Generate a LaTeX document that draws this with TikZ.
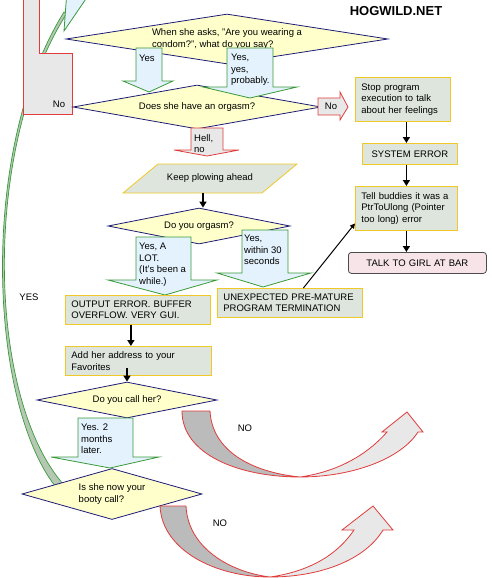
\documentclass[tikz,border=0pt]{standalone}
\usepackage{fontspec}
\setmainfont{Liberation Sans}
\usetikzlibrary{shapes.geometric, arrows.meta}

\definecolor{navy}{HTML}{1C1C78}
\definecolor{paleyellow}{HTML}{FFFFCC}
\definecolor{leaf}{HTML}{3A9A3A}
\definecolor{iceblue}{HTML}{E3F2FC}
\definecolor{brick}{HTML}{E03C3C}
\definecolor{ash}{HTML}{E8E8E8}
\definecolor{dkash}{HTML}{BBBBBB}
\definecolor{gold}{HTML}{F0C828}
\definecolor{sage}{HTML}{DDE5DD}
\definecolor{blush}{HTML}{F6E4E8}
\definecolor{moss}{HTML}{B4C8B4}

\tikzset{
  decision/.style={diamond, draw=navy, fill=paleyellow, line width=0.8pt, inner sep=0pt, align=left},
  procbox/.style={rectangle, draw=gold, fill=sage, line width=0.8pt, anchor=north west,
    inner xsep=6pt, inner ysep=3pt, align=left},
  talkbox/.style={rectangle, rounded corners=3pt, draw=black!70, fill=blush, line width=0.8pt,
    anchor=north west, inner xsep=6pt, inner ysep=3pt, align=center},
  yesarrow/.style={draw=leaf, fill=iceblue, line width=0.8pt},
  noarrow/.style={draw=brick, fill=ash, line width=0.8pt},
  nofold/.style={draw=brick, fill=dkash, line width=0.8pt},
  yesband/.style={draw=leaf, fill=moss, line width=0.7pt},
  plowbox/.style={draw=gold, fill=sage, line width=0.8pt},
  lbl/.style={inner sep=0pt, align=left, anchor=north west},
  flow/.style={-{Triangle[length=6pt,width=7pt]}, line width=1.6pt},
  thinflow/.style={-{Triangle[length=5pt,width=5pt]}, line width=1pt},
}

\begin{document}
\begin{tikzpicture}[x=1pt, y=-1pt, font=\fontsize{9.5}{11.5}\selectfont]
\useasboundingbox (0,0) rectangle (491,578);
\clip (0,0) rectangle (491,578);
% the long YES arrow round the left side
\draw[yesband] (55,486) .. controls (-11,400) and (-22,150) .. (64,12)
  -- (67,13) .. controls (-20,150) and (-12,400) .. (64,485) -- cycle;
\draw[yesarrow] (64,31) -- (67,-10) -- (92,-10) -- cycle;
% No branch running off the top
\draw[noarrow] (23,-5) -- (23,114) -- (72,114) -- (72,53) -- (39,53) -- (39,-5) -- cycle;
\node (nolbl) at (59,104) {No};
\node (yeslong) at (29,297) {YES};
\node[font=\fontsize{13}{15}\selectfont\bfseries] (brand) at (396,11) {HOGWILD.NET};

% decisions
\node[decision, aspect=6.5, minimum width=322pt, minimum height=50pt] (asks) at (227,39)
  {When she asks, "Are you wearing a\\condom?", what do you say?};
\node[decision, aspect=6, minimum width=248pt, minimum height=44pt] (herorg) at (197,107)
  {Does she have an orgasm?};
\node[decision, aspect=6, minimum width=182pt, minimum height=36pt] (yourorg) at (199,226)
  {Do you orgasm?};
\node[decision, aspect=6, minimum width=180pt, minimum height=36pt] (callher) at (127,400)
  {Do you call her?};
\node[decision, aspect=4, minimum width=180pt, minimum height=51pt] (booty) at (112,494)
  {Is she now your\\booty call?};

% block arrows between the decisions
\draw[yesarrow] (136,48) -- (162,48) -- (162,81) -- (173,81) -- (149,92) -- (123,81) -- (136,81) -- cycle;
\node[lbl] (yes1) at (139,55) {Yes};
\draw[yesarrow] (227,48) -- (273,48) -- (273,87) -- (297,87) -- (250,98) -- (203,87) -- (227,87) -- cycle;
\node[lbl] (yes2) at (231,54) {Yes,\\yes,\\probably.};
\draw[noarrow] (318,98) -- (340,98) -- (340,92) -- (348,107) -- (340,120) -- (340,115) -- (318,115) -- cycle;
\node (no1) at (331,106) {No};
\draw[noarrow] (191,128) -- (223,128) -- (223,150) -- (239,150) -- (207,156) -- (174,150) -- (191,150) -- cycle;
\node[lbl] (hell) at (194,134) {Hell,\\no};
\draw[yesarrow] (136,237) -- (191,237) -- (191,280) -- (217,280) -- (165,295) -- (108,280) -- (136,280) -- cycle;
\node[lbl] (alot) at (139,243) {Yes, A\\LOT.\\(It's been a\\while.)};
\draw[yesarrow] (242,230) -- (288,230) -- (288,273) -- (311,273) -- (263,287) -- (217,273) -- (242,273) -- cycle;
\node[lbl] (within) at (244,235) {Yes,\\within 30\\seconds};
\draw[yesarrow] (78,418) -- (133,418) -- (133,457) -- (159,457) -- (110,468) -- (51,457) -- (78,457) -- cycle;
\node[lbl] (later) at (81,424) {Yes. 2\\months\\later.};

% curved NO arrows
\draw[nofold] (182,411) .. controls (182,455) and (240,477) .. (300,477)
  .. controls (250,472) and (212,450) .. (210,411) -- cycle;
\draw[noarrow] (300,477) .. controls (350,477) and (400,460) .. (418,432) -- (423,432) -- (407,412)
  -- (382,432) -- (387,432) .. controls (365,457) and (335,472) .. (300,477) -- cycle;
\node (no2) at (245,428) {NO};
\draw[nofold] (160,506) .. controls (162,550) and (215,577) .. (270,577)
  .. controls (230,572) and (188,548) .. (186,506) -- cycle;
\draw[noarrow] (270,577) .. controls (320,577) and (365,560) .. (383,530) -- (393,530) -- (373,506)
  -- (342,530) -- (354,530) .. controls (335,558) and (305,572) .. (270,577) -- cycle;
\node (no3) at (220,523) {NO};

% process steps
\draw[plowbox] (158,164) -- (297,164) -- (262,193) -- (123,193) -- cycle;
\node (keep) at (210,178) {Keep plowing ahead};
\coordinate (keepbot) at (203,193);
\node[procbox, text width=133pt, minimum height=29pt] (unexp) at (217,288)
  {UNEXPECTED PRE-MATURE\\PROGRAM TERMINATION};
\node[procbox, text width=133pt, minimum height=29pt] (outerr) at (65,295)
  {OUTPUT ERROR. BUFFER\\OVERFLOW. VERY GUI.};
\node[procbox, text width=134pt, minimum height=29pt] (addr) at (65,346)
  {Add her address to your\\Favorites};
\node[procbox, text width=83pt, minimum height=44pt] (stop) at (355,77)
  {Stop program\\execution to talk\\about her feelings};
\node[procbox, align=center, text width=83pt, minimum height=21pt] (syserr) at (362,143)
  {SYSTEM ERROR};
\node[procbox, text width=90pt, minimum height=44pt] (tell) at (355,186)
  {Tell buddies it was a\\PtrToUlong (Pointer\\too long) error};
\node[talkbox, text width=126pt, minimum height=21pt] (talk) at (348,252)
  {TALK TO GIRL AT BAR};

% connectors
\draw[flow] (keepbot) -- (keepbot |- yourorg.north);
\draw[flow] ([xshift=-7pt]outerr.south) -- ([xshift=-7pt]outerr.south |- addr.north);
\draw[flow] ([yshift=8pt]addr.south -| callher.north) -- (callher.north);
\draw[flow] (stop.south -| tell.north) -- (syserr.north -| tell.north);
\draw[flow] (syserr.south -| tell.north) -- (tell.north);
\draw[flow] (tell.south) -- (talk.north -| tell.south);
\draw[thinflow] ([xshift=13.5pt]unexp.north) -- ([yshift=-15pt]tell.west);
\end{tikzpicture}
\end{document}
